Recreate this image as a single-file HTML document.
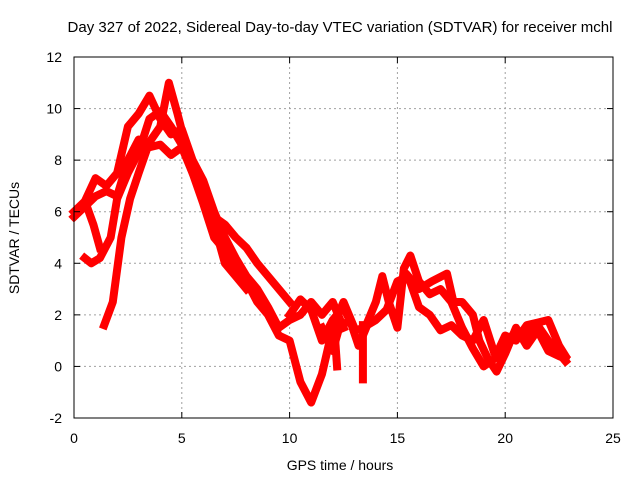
<!DOCTYPE html>
<html><head><meta charset="utf-8"><style>
body{margin:0;background:#fff}
svg text{font-family:"Liberation Sans",sans-serif;font-size:14px;fill:#000}
</style></head><body>
<svg id="chart" width="640" height="480" xmlns="http://www.w3.org/2000/svg">
<text x="340" y="32" text-anchor="middle" style="font-size:15px">Day 327 of 2022, Sidereal Day-to-day VTEC variation (SDTVAR) for receiver mchl</text>
<g id="grid"></g>
<g id="series"></g>
<rect x="74" y="57" width="539" height="361" fill="none" stroke="#000" stroke-width="1"/>
<g id="ticks"></g>
<text x="340" y="470" text-anchor="middle">GPS time / hours</text>
<text transform="translate(19,238) rotate(-90)" text-anchor="middle">SDTVAR / TECUs</text>
</svg>
<script>
const xTicks=[0,5,10,15,20,25];
const yTicks=[-2,0,2,4,6,8,10,12];
const trackA=[[0,6.0],[0.5,6.4],[1,7.3],[1.5,7.0],[2,7.5],[2.5,9.3],[3,9.8],[3.5,10.5],[4,9.6],[4.5,9.0],[5,9.2],[5.5,8.0],[6,7.2],[6.5,6.0],[7,5.0],[7.5,4.2],[8,3.5],[8.5,3.0],[9,2.3],[9.5,1.5],[10,1.8],[10.5,2.0],[11,2.5],[11.5,2.0],[12,2.5],[12.5,1.5]];
const trackB=[[0,5.8],[0.5,6.2],[1,6.6],[1.5,6.8],[2,6.6],[2.5,8.0],[3,8.8],[3.5,8.5],[4,8.6],[4.5,8.2],[5,8.5],[5.5,7.5],[6,6.3],[6.5,5.0],[7,4.5],[7.5,3.8],[8,3.3],[8.5,2.5],[9,2.0],[9.5,1.2],[10,1.0],[10.5,-0.6],[11,-1.4],[11.5,-0.3],[12,1.5],[12.5,2.5],[13,1.5]];
const trackC=[[1.4,1.6],[1.8,2.5],[2.2,5],[2.6,6.5],[3,7.5],[3.5,8.7],[4,9.3],[4.4,11.0],[4.8,9.8],[5.2,8.5],[5.6,7.5],[6,7.0],[6.5,5.8],[7,5.5],[7.5,5.0],[8,4.6],[8.5,4.0],[9,3.5],[9.5,3.0],[10,2.5]];
const trackD=[[0.5,4.2],[0.8,4.0],[1.2,4.2],[1.7,5.0],[2,6.5],[2.5,7.5],[3,8.3],[3.5,9.6],[4,9.9],[4.5,9.3],[5,8.6],[5.5,7.5],[6,6.6],[6.5,5.5],[7,4.0],[7.5,3.5],[8,3.0]];
const trackE=[[0.6,6.2],[0.9,5.5],[1.2,4.6]];
const trackF=[[10,2.0],[10.5,2.6],[11,2.2],[11.5,1.0],[12,1.8],[12.5,2.3],[13,1.4],[13.5,1.5],[14,2.5],[14.3,3.5],[14.6,2.5],[15,1.5],[15.3,3.8],[15.6,4.3],[16,3.3],[16.5,2.8],[17,3.0],[17.5,2.5],[18,1.5],[18.5,0.7],[19,0.0],[19.5,0.3],[20,1.2],[20.5,1.0],[21,1.6],[21.5,1.7],[22,1.8],[22.5,0.8],[22.8,0.4]];
const trackG=[[11.5,1.5],[12,0.6],[12.3,1.5],[12.8,1.8],[13.2,0.8],[13.6,1.6],[14,1.8],[14.5,2.2],[15,3.3],[15.5,3.5],[16,2.3],[16.5,2.0],[17,1.4],[17.5,1.6],[18,1.2],[18.5,1.0],[19,1.8],[19.5,0.5],[20,0.8],[20.5,1.4],[21,1.2],[21.5,1.6],[22,1.0],[22.5,0.5],[22.8,0.2]];
const trackH=[[15.1,3.0],[15.4,3.6],[16.0,3.0],[16.6,3.3],[17.3,3.6],[17.6,2.5],[18,2.5],[18.5,2.0],[18.8,1.0],[19.2,0.3],[19.6,-0.2],[20,0.5],[20.5,1.5],[21,0.8],[21.5,1.4],[22,0.6],[22.5,0.4],[22.8,0.3]];
const spike1=[[12.1,1.2],[12.2,0.0]];
const spike2=[[13.4,1.6],[13.4,-0.5]];
const tracks=[trackA,trackB,trackC,trackD,trackE,trackF,trackG,trackH,spike1,spike2];
const NS="http://www.w3.org/2000/svg";
const X=v=>74+v*(539/25), Y=v=>418-(v+2)*(361/14);
const grid=document.getElementById('grid'),ticks=document.getElementById('ticks'),ser=document.getElementById('series');
function mk(tag,attrs,parent){const e=document.createElementNS(NS,tag);for(const k in attrs)e.setAttribute(k,attrs[k]);parent.appendChild(e);return e;}
xTicks.forEach(t=>{const x=X(t);
 if(t>0&&t<25){const l=mk('line',{x1:x,x2:x,y1:57,y2:418,stroke:'#a0a0a0','stroke-dasharray':'2,3'},grid);}
 const a=mk('line',{x1:x,x2:x,y1:418,y2:412,stroke:'#000'},ticks);
 const b=mk('line',{x1:x,x2:x,y1:57,y2:63,stroke:'#000'},ticks);
 const tx=mk('text',{x:x,y:443,'text-anchor':'middle'},ticks);tx.textContent=t;});
yTicks.forEach(t=>{const y=Y(t);
 if(t>-2&&t<12){const l=mk('line',{x1:74,x2:613,y1:y,y2:y,stroke:'#a0a0a0','stroke-dasharray':'2,3'},grid);}
 const a=mk('line',{x1:74,x2:80,y1:y,y2:y,stroke:'#000'},ticks);
 const b=mk('line',{x1:607,x2:613,y1:y,y2:y,stroke:'#000'},ticks);
 const tx=mk('text',{x:62,y:y+5,'text-anchor':'end'},ticks);tx.textContent=t;});
tracks.forEach(tr=>{const p=mk('polyline',{points:tr.map(d=>X(d[0])+','+Y(d[1])).join(' '),fill:'none',stroke:'#ff0000','stroke-width':8,'stroke-linejoin':'round','stroke-linecap':'square'},ser);
 
 });
</script>
</body></html>
